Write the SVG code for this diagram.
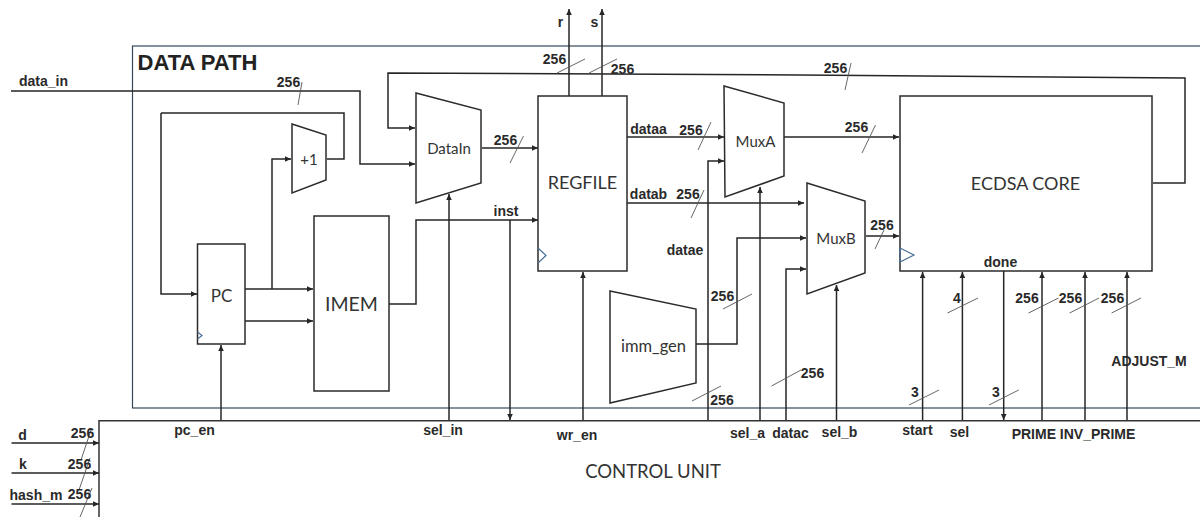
<svg xmlns="http://www.w3.org/2000/svg" width="1200" height="517" viewBox="0 0 1200 517">
<style>
.n{fill:#fff;stroke:#2b2b2b;stroke-width:1.5}
.w{fill:none;stroke:#262626;stroke-width:1.5}
.ar{marker-end:url(#a)}
.s{fill:none;stroke:#555;stroke-width:.9}
.ck{fill:none;stroke:#4a6f96;stroke-width:1.2}
.b{font-family:"Liberation Sans",Arial,sans-serif;font-weight:700;font-size:14px;fill:#2a2a2a;text-anchor:middle}
.t{font-family:Lato,"Liberation Sans",sans-serif;fill:#333;text-anchor:middle}
</style>
<defs>
<marker id="a" markerUnits="userSpaceOnUse" markerWidth="7" markerHeight="7" refX="6" refY="3" orient="auto"><path d="M0,0.2L6,3L0,5.8Z" fill="#262626"/></marker>
</defs>
<rect width="1200" height="517" fill="#fff"/>
<g id="data-path">
<rect x="132.500" y="46" width="1100" height="362" fill="none" stroke="#34495c" stroke-width="1.200"/>
<text x="197.500" y="70" text-anchor="middle" font-family="Liberation Sans,Arial,sans-serif" font-weight="700" font-size="22" fill="#222">DATA PATH</text>
</g>
<g id="control-unit">
<path d="M99,517V420.700H1200" fill="#fff" stroke="#333" stroke-width="1.500"/>
<text class="t" x="653" y="478" font-size="18.500">CONTROL UNIT</text>
</g>
<g id="connectors">
<path class="w ar" d="M11,91H360V164H415"/>
<path class="w" d="M161,113H344V159H327"/>
<path class="w ar" d="M161,113V294H197"/>
<path class="w ar" d="M272,289V159H291"/>
<path class="w ar" d="M1153,183H1185V78L800,75L388,73V128H415"/>
<path class="w ar" d="M482,148H538"/>
<path class="w ar" d="M389,304H416V220H538"/>
<path class="w ar" d="M510,220V420"/>
<path class="w ar" d="M449,420V194"/>
<path class="w ar" d="M245,289H313"/>
<path class="w ar" d="M245,321H313"/>
<path class="w ar" d="M221,420V345"/>
<path class="w ar" d="M569,96V9"/>
<path class="w ar" d="M602,96V9"/>
<path class="w ar" d="M627,137H724"/>
<path class="w ar" d="M708,420V161H724"/>
<path class="w ar" d="M784,137H899"/>
<path class="w ar" d="M627,203H804"/>
<path class="w ar" d="M696,344H737V238H806"/>
<path class="w ar" d="M760,420V187"/>
<path class="w ar" d="M786,420V269H806"/>
<path class="w ar" d="M836.500,420V285"/>
<path class="w ar" d="M866,236H899"/>
<path class="w ar" d="M583,420V272"/>
<path class="w ar" d="M922.600,420V272"/>
<path class="w ar" d="M962.400,420V272"/>
<path class="w ar" d="M1003.700,271V420"/>
<path class="w ar" d="M1042,420V272"/>
<path class="w ar" d="M1085,420V272"/>
<path class="w ar" d="M1127,420V272"/>
<path class="w ar" d="M11.500,443H99"/>
<path class="w ar" d="M11.500,473H99"/>
<path class="w ar" d="M11.500,504H99"/>
</g>
<g id="bus-slashes">
<path class="s" d="M302,82L298,105M523.500,136L510,163M585,59L557,73M617,59L589,73M851,63L845,90M711,122L698,150M875.500,125L862,153M704,190L691,218M884,230L875,249M752,294L723,309M978,298L947.500,313M1058.500,298L1028.600,313M1099,298L1069.600,313M1141,298L1111.600,313M801,370L771.500,386M721,386L692,401M939,390L909,405M1018.700,390L989,405M91,430L81,460M90,458L79,490M92,488L80,517"/>
</g>
<g id="pc"><rect class="n" x="197.500" y="244" width="47.500" height="100"/><path class="ck" d="M197.500,332L202,335.500L197.500,339"/><text class="t" x="221.500" y="302" font-size="17">PC</text></g>
<g id="imem"><rect class="n" x="314" y="216" width="75" height="175"/><text class="t" x="351.500" y="311" font-size="19.500">IMEM</text></g>
<g id="plus1"><path class="n" d="M292,124L326,135V180L292,193Z"/><text class="t" x="309" y="165" font-size="15">+1</text></g>
<g id="datain"><path class="n" d="M416,93L481,110V183L416,203Z"/><text class="t" x="449" y="154" font-size="15">DataIn</text></g>
<g id="regfile"><rect class="n" x="538" y="96" width="89" height="175"/><path class="ck" d="M538,248L546,255.500L538,263"/><text class="t" x="582.500" y="189" font-size="18">REGFILE</text></g>
<g id="muxa"><path class="n" d="M724,86L784,103V176L725,197Z"/><text class="t" x="755.500" y="147" font-size="15">MuxA</text></g>
<g id="muxb"><path class="n" d="M807,183L865,201V273L807,294Z"/><text class="t" x="836" y="244" font-size="15">MuxB</text></g>
<g id="imm-gen"><path class="n" d="M610,291L696,309V383L610,403Z"/><text class="t" x="653.500" y="352" font-size="16.500">imm_gen</text></g>
<g id="ecdsa-core"><rect class="n" x="900" y="96" width="252" height="175"/><path class="ck" d="M900,248L914,255L900,262Z"/><text class="t" x="1025.500" y="190" font-size="18">ECDSA CORE</text></g>
<g id="labels">
<text class="b" x="43.500" y="86">data_in</text>
<text class="b" x="288.500" y="87">256</text>
<text class="b" x="505.500" y="145">256</text>
<text class="b" x="554.500" y="64">256</text>
<text class="b" x="622.500" y="74">256</text>
<text class="b" x="835.500" y="73">256</text>
<text class="b" x="691" y="135">256</text>
<text class="b" x="856.500" y="132">256</text>
<text class="b" x="688" y="199">256</text>
<text class="b" x="882" y="230">256</text>
<text class="b" x="722.500" y="301">256</text>
<text class="b" x="1027" y="303">256</text>
<text class="b" x="1070.500" y="303">256</text>
<text class="b" x="1112.500" y="303">256</text>
<text class="b" x="812.500" y="378">256</text>
<text class="b" x="722" y="405">256</text>
<text class="b" x="957" y="303">4</text>
<text class="b" x="915" y="397">3</text>
<text class="b" x="996" y="397">3</text>
<text class="b" x="506" y="216">inst</text>
<text class="b" x="560.500" y="27">r</text>
<text class="b" x="594.500" y="27">s</text>
<text class="b" x="648.500" y="134">dataa</text>
<text class="b" x="648.500" y="199">datab</text>
<text class="b" x="685" y="255">datae</text>
<text class="b" x="1000.500" y="267">done</text>
<text class="b" x="1149" y="366">ADJUST_M</text>
<text class="b" x="194.500" y="435">pc_en</text>
<text class="b" x="443" y="435">sel_in</text>
<text class="b" x="577" y="440">wr_en</text>
<text class="b" x="747.500" y="438">sel_a</text>
<text class="b" x="790.500" y="438">datac</text>
<text class="b" x="839.500" y="437">sel_b</text>
<text class="b" x="917.500" y="435">start</text>
<text class="b" x="959.500" y="437">sel</text>
<text class="b" x="1073.500" y="439">PRIME INV_PRIME</text>
<text class="b" x="22.500" y="440">d</text>
<text class="b" x="23" y="469">k</text>
<text class="b" x="36" y="500">hash_m</text>
<text class="b" x="82.500" y="438">256</text>
<text class="b" x="79.500" y="469">256</text>
<text class="b" x="79.500" y="499">256</text>
</g>
</svg>
